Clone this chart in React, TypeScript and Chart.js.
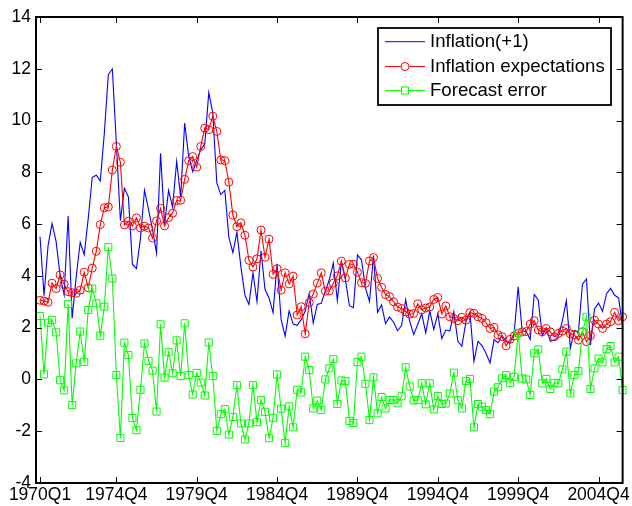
import React, { useEffect, useRef } from "react";
import { Chart, registerables } from "chart.js";

Chart.register(...registerables);

// Quarterly categories 1970Q1 .. 2006Q2
const START_YEAR = 1970;
const N_QUARTERS = 146;
const QUARTERS: string[] = [];
for (let k = 0; k < N_QUARTERS; k++) {
  QUARTERS.push(`${START_YEAR + Math.floor(k / 4)}Q${(k % 4) + 1}`);
}

const XTICK_LABELS = ["1970Q1", "1974Q4", "1979Q4", "1984Q4", "1989Q4", "1994Q4", "1999Q4", "2004Q4"];

const SERIES_NAMES = ["Inflation(+1)", "Inflation expectations", "Forecast error"];

const INFLATION_NEXT = [
  5.51, 3.23, 5.17, 6.02, 5.33, 4.01, 3.26, 6.31, 2.36, 3.95,
  5.30, 4.82, 6.22, 7.81, 7.89, 7.67, 9.50, 11.77, 11.99, 9.12,
  6.13, 7.39, 7.05, 4.44, 4.28, 5.45, 7.31, 6.57, 5.80, 4.88,
  8.74, 6.00, 7.30, 6.66, 8.42, 7.05, 9.90, 8.62, 8.03, 8.45,
  8.88, 9.09, 11.08, 10.30, 7.59, 7.14, 7.30, 5.49, 4.90, 5.68,
  4.35, 3.25, 2.90, 4.12, 3.01, 4.97, 3.47, 3.15, 2.58, 4.47,
  2.32, 1.67, 2.65, 2.14, 2.09, 2.31, 2.64, 3.33, 2.18, 2.90,
  2.94, 3.41, 3.85, 4.50, 3.05, 4.53, 3.86, 2.85, 2.77, 4.81,
  4.62, 3.54, 3.01, 4.79, 2.59, 2.88, 2.16, 2.41, 2.21, 1.88,
  2.09, 3.08, 2.25, 1.74, 2.12, 2.54, 1.80, 2.65, 1.93, 2.53,
  1.58, 1.91, 1.88, 2.62, 1.47, 1.28, 2.23, 2.60, 0.70, 1.47,
  1.31, 1.01, 0.63, 1.54, 1.42, 1.69, 1.47, 1.42, 1.78, 3.58,
  1.88, 1.85, 1.54, 3.28, 3.07, 1.69, 1.99, 1.47, 1.52, 1.63,
  2.26, 3.04, 1.22, 1.89, 1.84, 3.68, 3.88, 1.32, 2.72, 2.95,
  2.63, 3.31, 3.52, 3.25, 3.15, 2.01,
];

const EXPECTATIONS = [
  3.06, 3.03, 2.98, 3.72, 3.51, 4.04, 3.68, 3.39, 3.35, 3.33,
  3.45, 4.14, 3.54, 4.30, 4.95, 5.98, 6.63, 6.66, 8.09, 9.00,
  8.39, 5.97, 6.11, 5.93, 6.24, 5.85, 5.92, 5.85, 5.46, 6.12,
  6.61, 5.93, 6.25, 6.42, 6.91, 6.92, 7.73, 8.45, 8.61, 8.20,
  9.00, 9.71, 9.65, 10.17, 9.58, 8.48, 8.45, 7.62, 6.35, 5.90,
  6.05, 5.57, 4.60, 4.34, 4.66, 5.77, 4.72, 5.42, 4.06, 4.28,
  3.45, 4.12, 3.69, 3.99, 2.49, 2.81, 1.76, 2.97, 3.30, 3.72,
  4.12, 3.41, 3.42, 3.72, 4.00, 4.57, 3.92, 4.45, 4.45, 4.14,
  3.74, 3.71, 4.58, 4.71, 3.90, 3.56, 3.28, 3.20, 3.00, 2.80,
  2.74, 2.61, 2.52, 2.55, 2.92, 2.69, 2.76, 2.80, 3.09, 3.17,
  2.53, 2.84, 2.42, 2.36, 2.27, 2.40, 2.29, 2.58, 2.55, 2.42,
  2.36, 2.19, 1.97, 2.01, 1.72, 1.65, 1.30, 1.55, 1.68, 1.78,
  1.84, 1.85, 2.14, 2.27, 1.91, 1.84, 1.97, 1.84, 1.65, 1.78,
  1.87, 1.97, 1.76, 1.72, 1.52, 1.84, 1.46, 1.69, 2.29, 2.14,
  1.97, 2.14, 2.23, 2.59, 2.27, 2.42,
];

const FORECAST_ERROR = [
  2.45, 0.20, 2.19, 2.30, 1.82, -0.03, -0.42, 2.92, -0.99, 0.62,
  1.85, 0.68, 2.68, 3.51, 2.94, 1.69, 2.81, 5.11, 3.90, 0.17,
  -2.26, 1.42, 0.94, -1.49, -1.96, -0.40, 1.39, 0.72, 0.34, -1.24,
  2.13, 0.07, 1.05, 0.24, 1.51, 0.13, 2.17, 0.17, -0.58, 0.25,
  -0.12, -0.62, 1.43, 0.13, -1.99, -1.34, -1.15, -2.13, -1.45, -0.22,
  -1.70, -2.32, -1.70, -0.22, -1.65, -0.80, -1.25, -2.27, -1.48, 0.19,
  -1.13, -2.45, -1.04, -1.85, -0.40, -0.50, 0.88, 0.36, -1.12, -0.82,
  -1.18, 0.00, 0.43, 0.78, -0.95, -0.04, -0.06, -1.60, -1.68, 0.67,
  0.88, -0.17, -1.57, 0.08, -1.31, -0.68, -1.12, -0.79, -0.79, -0.92,
  -0.65, 0.47, -0.27, -0.81, -0.80, -0.15, -0.96, -0.15, -1.16, -0.64,
  -0.95, -0.93, -0.54, 0.26, -0.80, -1.12, -0.06, 0.02, -1.85, -0.95,
  -1.05, -1.18, -1.34, -0.47, -0.30, 0.04, 0.17, -0.13, 0.10, 1.80,
  0.04, 0.00, -0.60, 1.01, 1.16, -0.15, 0.02, -0.37, -0.13, -0.15,
  0.39, 1.07, -0.54, 0.17, 0.32, 1.84, 2.42, -0.37, 0.43, 0.81,
  0.66, 1.17, 1.29, 0.66, 0.88, -0.41,
];

const COLORS = ["#0000FF", "#FF0000", "#00FF00"];
const FONT_FAMILY = "'Liberation Sans', Arial, Helvetica, sans-serif";

const toXY = (arr: number[]) => arr.map((v, i) => ({ x: i + 1, y: v }));

const XTICK_POS = XTICK_LABELS.map((l) => QUARTERS.indexOf(l) + 1);

const framePlugin = {
  id: "frame",
  afterDatasetsDraw(chart: any) {
    const { ctx, chartArea: a, scales } = chart;
    ctx.save();
    ctx.strokeStyle = "#000";
    ctx.lineWidth = 1;
    const tl = 6;
    scales.y.ticks.forEach((t: any) => {
      const py = Math.round(scales.y.getPixelForValue(t.value)) + 0.5;
      ctx.beginPath();
      ctx.moveTo(a.left, py);
      ctx.lineTo(a.left + tl, py);
      ctx.moveTo(a.right, py);
      ctx.lineTo(a.right - tl, py);
      ctx.stroke();
    });
    scales.x.ticks.forEach((t: any) => {
      const px = Math.round(scales.x.getPixelForValue(t.value)) + 0.5;
      ctx.beginPath();
      ctx.moveTo(px, a.bottom);
      ctx.lineTo(px, a.bottom - tl);
      ctx.moveTo(px, a.top);
      ctx.lineTo(px, a.top + tl);
      ctx.stroke();
    });
    ctx.lineWidth = 2;
    ctx.strokeRect(a.left, a.top, a.right - a.left, a.bottom - a.top);
    ctx.restore();
  },
};

const legendPlugin = {
  id: "boxLegend",
  afterDraw(chart: any) {
    const { ctx } = chart;
    const bx = 378, by = 28, bw = 233, bh = 77;
    ctx.save();
    ctx.fillStyle = "#fff";
    ctx.fillRect(bx, by, bw, bh);
    ctx.strokeStyle = "#000";
    ctx.lineWidth = 1.8;
    ctx.strokeRect(bx, by, bw, bh);
    const rows = [41.7, 66.5, 90.5];
    chart.data.datasets.forEach((ds: any, i: number) => {
      const y = rows[i];
      ctx.strokeStyle = ds.borderColor;
      ctx.lineWidth = 1;
      ctx.beginPath();
      ctx.moveTo(385, y);
      ctx.lineTo(425, y);
      ctx.stroke();
      if (ds.pointStyle === "circle" && ds.pointRadius > 0) {
        ctx.beginPath();
        ctx.arc(405, y, 4, 0, Math.PI * 2);
        ctx.fillStyle = "#fff";
        ctx.fill();
        ctx.stroke();
      } else if (ds.pointStyle === "rect" && ds.pointRadius > 0) {
        ctx.fillStyle = "#fff";
        ctx.fillRect(401.5, y - 3.5, 7, 7);
        ctx.strokeRect(401.5, y - 3.5, 7, 7);
      }
      ctx.fillStyle = "#000";
      ctx.font = `18.6px ${FONT_FAMILY}`;
      ctx.textBaseline = "middle";
      ctx.textAlign = "left";
      ctx.fillText(ds.label, 430, y + 0.5);
    });
    ctx.restore();
  },
};

export default function App() {
  const canvasRef = useRef<HTMLCanvasElement | null>(null);

  useEffect(() => {
    const canvas = canvasRef.current;
    if (!canvas) return;
    const tickFont = { family: FONT_FAMILY, size: 17.5 };
    const chart = new Chart(canvas, {
      type: "line",
      data: {
        datasets: [
          {
            label: SERIES_NAMES[0],
            data: toXY(INFLATION_NEXT),
            borderColor: COLORS[0],
            backgroundColor: COLORS[0],
            borderWidth: 1.1,
            pointRadius: 0,
            pointStyle: "line",
            tension: 0,
            order: 3,
            clip: false,
          },
          {
            label: SERIES_NAMES[1],
            data: toXY(EXPECTATIONS),
            borderColor: COLORS[1],
            backgroundColor: "rgba(0,0,0,0)",
            borderWidth: 1.1,
            pointStyle: "circle",
            pointRadius: 4,
            pointBorderWidth: 1,
            pointBorderColor: COLORS[1],
            pointBackgroundColor: "rgba(0,0,0,0)",
            tension: 0,
            order: 2,
            clip: false,
          },
          {
            label: SERIES_NAMES[2],
            data: toXY(FORECAST_ERROR),
            borderColor: COLORS[2],
            backgroundColor: "rgba(0,0,0,0)",
            borderWidth: 1.1,
            pointStyle: "rect",
            pointRadius: 5,
            pointBorderWidth: 1,
            pointBorderColor: COLORS[2],
            pointBackgroundColor: "rgba(0,0,0,0)",
            tension: 0,
            order: 1,
            clip: false,
          },
        ],
      },
      options: {
        responsive: false,
        animation: false,
        events: [],
        layout: { padding: { left: 0, top: 17, right: 8.5, bottom: 0 } },
        plugins: { legend: { display: false }, tooltip: { enabled: false } },
        scales: {
          x: {
            type: "linear",
            min: 0,
            max: N_QUARTERS,
            grid: { display: false, drawTicks: false },
            border: { display: false },
            afterBuildTicks: (axis: any) => {
              axis.ticks = XTICK_POS.map((v) => ({ value: v }));
            },
            afterFit: (s: any) => {
              s.height = 23;
            },
            ticks: {
              autoSkip: false,
              maxRotation: 0,
              minRotation: 0,
              padding: 2,
              color: "#000",
              font: tickFont,
              callback: (v: any) => {
                const idx = XTICK_POS.indexOf(Number(v));
                return idx >= 0 ? XTICK_LABELS[idx] : "";
              },
            },
          },
          y: {
            type: "linear",
            min: -4,
            max: 14,
            grid: { display: false, drawTicks: false },
            border: { display: false },
            afterFit: (s: any) => {
              s.width = 36;
            },
            ticks: {
              stepSize: 2,
              padding: 5,
              color: "#000",
              font: tickFont,
            },
          },
        },
      },
      plugins: [framePlugin, legendPlugin],
    } as any);
    return () => chart.destroy();
  }, []);

  return (
    <canvas
      ref={canvasRef}
      width={632}
      height={506}
      style={{ position: "absolute", left: 0, top: 0, display: "block", background: "#fff" }}
    />
  );
}
